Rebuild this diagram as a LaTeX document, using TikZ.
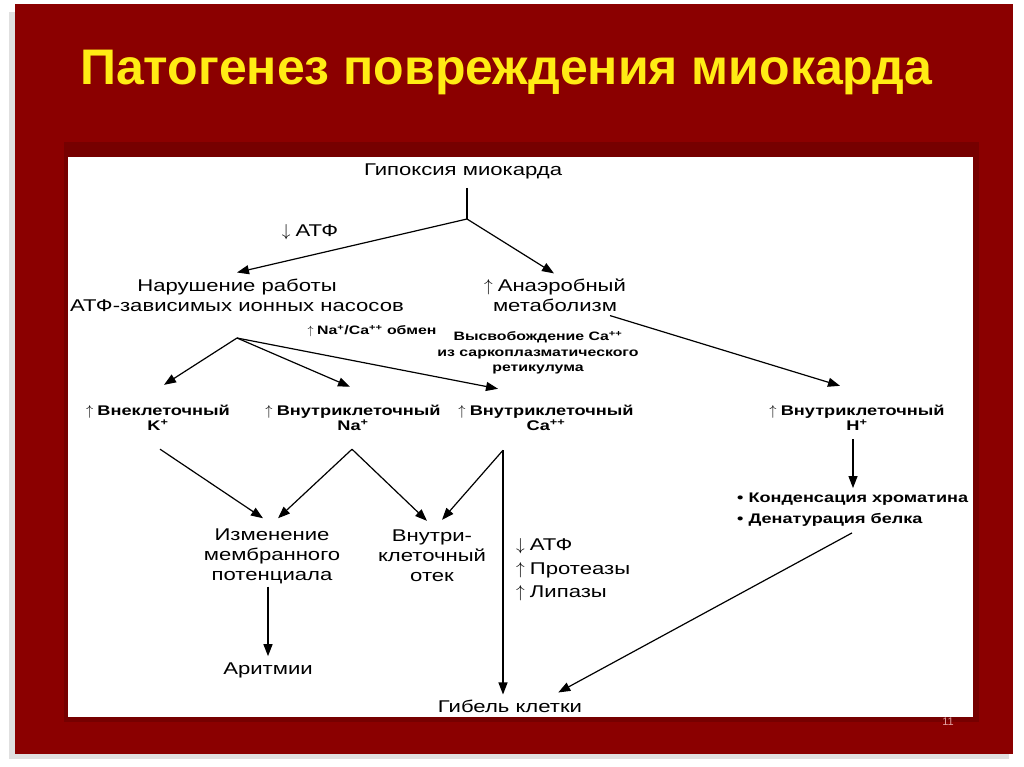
\documentclass[tikz,border=0pt]{standalone}
\usepackage{fontspec}
\setmainfont{Liberation Sans}
\newfontfamily\diagfont[FakeStretch=1.3]{Liberation Sans}
\usepackage{tikz}
\usetikzlibrary{positioning}
\usetikzlibrary{calc}
\usetikzlibrary{arrows.meta}
\definecolor{slidered}{RGB}{139,0,0}
\definecolor{slideshade}{RGB}{118,0,0}
\definecolor{titleyellow}{RGB}{255,236,20}
\definecolor{pagenum}{RGB}{225,160,160}
\newcommand{\incr}{$\uparrow$\hspace{0.3em}}
\newcommand{\decr}{$\downarrow$\hspace{0.3em}}

\begin{document}
\begin{tikzpicture}[x=1pt, y=-1pt,
    big/.style={font=\diagfont\fontsize{17}{20}\selectfont, align=center, inner sep=1pt},
    small/.style={font=\diagfont\bfseries\fontsize{14}{15.5}\selectfont, align=center, inner sep=1pt},
    note/.style={font=\diagfont\bfseries\fontsize{12.2}{15.5}\selectfont, align=center, inner sep=1pt},
    arr/.style={-{Triangle[length=12pt,width=9pt]}, line width=1.2pt},
    link/.style={line width=1.2pt}]

    % slide
    \useasboundingbox (0,0) rectangle (1024,767);
    \fill[white] (0,0) rectangle (1024,767);
    \fill[black!12] (9,12) rectangle (1009,759);
    \fill[slidered] (15,4) rectangle (1013,754);
    \fill[slideshade] (64,142) rectangle (979,722);
    \fill[white] (68,157) rectangle (973,717);

    \node[font=\bfseries\fontsize{50}{52}\selectfont, text=titleyellow] (title) at (506,72) {Патогенез повреждения миокарда};
    \node[font=\fontsize{11}{12}\selectfont, text=pagenum] (pnum) at (948,722) {11};

    % upper level
    \node[big] (hyp) at (463,171) {Гипоксия миокарда};
    \coordinate (split) at (467,219);
    \node[big] (atf) at (310,232) {\decr АТФ};
    \node[big] (pumps) at (237,295) {Нарушение работы\\АТФ-зависимых ионных насосов};
    \node[big] (anaer) at (555,295) {\incr Анаэробный\\метаболизм};
    \node[note] (exch) at (372,331) {\incr Na\textsuperscript{+}/Ca\textsuperscript{++} обмен};
    \node[note] (release) at (538,353) {Высвобождение Ca\textsuperscript{++}\\из саркоплазматического\\ретикулума};
    \coordinate (fork) at (237,338);

    % ions
    \node[small] (kout) at (158,418) {\incr Внеклеточный\\K\textsuperscript{+}};
    \node[small] (nain) at (353,418) {\incr Внутриклеточный\\Na\textsuperscript{+}};
    \node[small] (cain) at (546,418) {\incr Внутриклеточный\\Ca\textsuperscript{++}};
    \node[small] (hin) at (857,418) {\incr Внутриклеточный\\H\textsuperscript{+}};

    % effects
    \node[big] (memb) at (272,556) {Изменение\\мембранного\\потенциала};
    \node[big] (edema) at (432,556) {Внутри-\\клеточный\\отек};
    \node[big, align=left, anchor=west, font=\diagfont\fontsize{17}{23.5}\selectfont] (caeff) at (515,570) {\decr АТФ\\\incr Протеазы\\\incr Липазы};
    \node[small, align=left, anchor=west, font=\diagfont\bfseries\fontsize{13.9}{21}\selectfont] (chrom) at (736,510) {• Конденсация хроматина\\• Денатурация белка};
    \node[big] (arrh) at (268,670) {Аритмии};
    \node[big] (death) at (510,706) {Гибель клетки};

    % connectors
    \draw[link] ($(hyp.south)+(4,8)$) -- (split);
    \draw[arr] (split) -- ($(pumps.north)+(0,-5)$);
    \draw[arr] (split) -- ($(anaer.north)+(-1,-4)$);
    \draw[arr] (fork) -- ($(kout.north)+(6,-19)$);
    \draw[arr] (fork) -- ($(nain.north)+(-3,-17)$);
    \draw[arr] (fork) -- ($(cain.north)+(-48,-15)$);
    \draw[arr] ($(anaer.south)+(55,3)$) -- ($(hin.north)+(-17,-18)$);

    \draw[arr] ($(kout.south)+(2,17)$) -- ($(memb.north)+(-9,-9)$);
    \draw[arr] ($(nain.south)+(-1,17)$) -- ($(memb.north)+(6,-9)$);
    \draw[arr] ($(nain.south)+(-1,17)$) -- ($(edema.north)+(-5,-8)$);
    \draw[arr] ($(cain.south)+(-43,18)$) -- ($(edema.north)+(10,-9)$);
    \draw[arr] ($(cain.south)+(-43,18)$) -- ($(death.north)+(-7,-4)$);
    \draw[arr] ($(memb.south)+(-4,2)$) -- ($(arrh.north)+(0,-5)$);
    \draw[arr] ($(hin.south)+(-4,7)$) -- ($(chrom.north -| hin.south)+(-4,-4)$);
    \draw[arr] ($(chrom.south -| hin.south)+(-5,5)$) -- ($(death.north east)+(-25,-6)$);
\end{tikzpicture}
\end{document}
